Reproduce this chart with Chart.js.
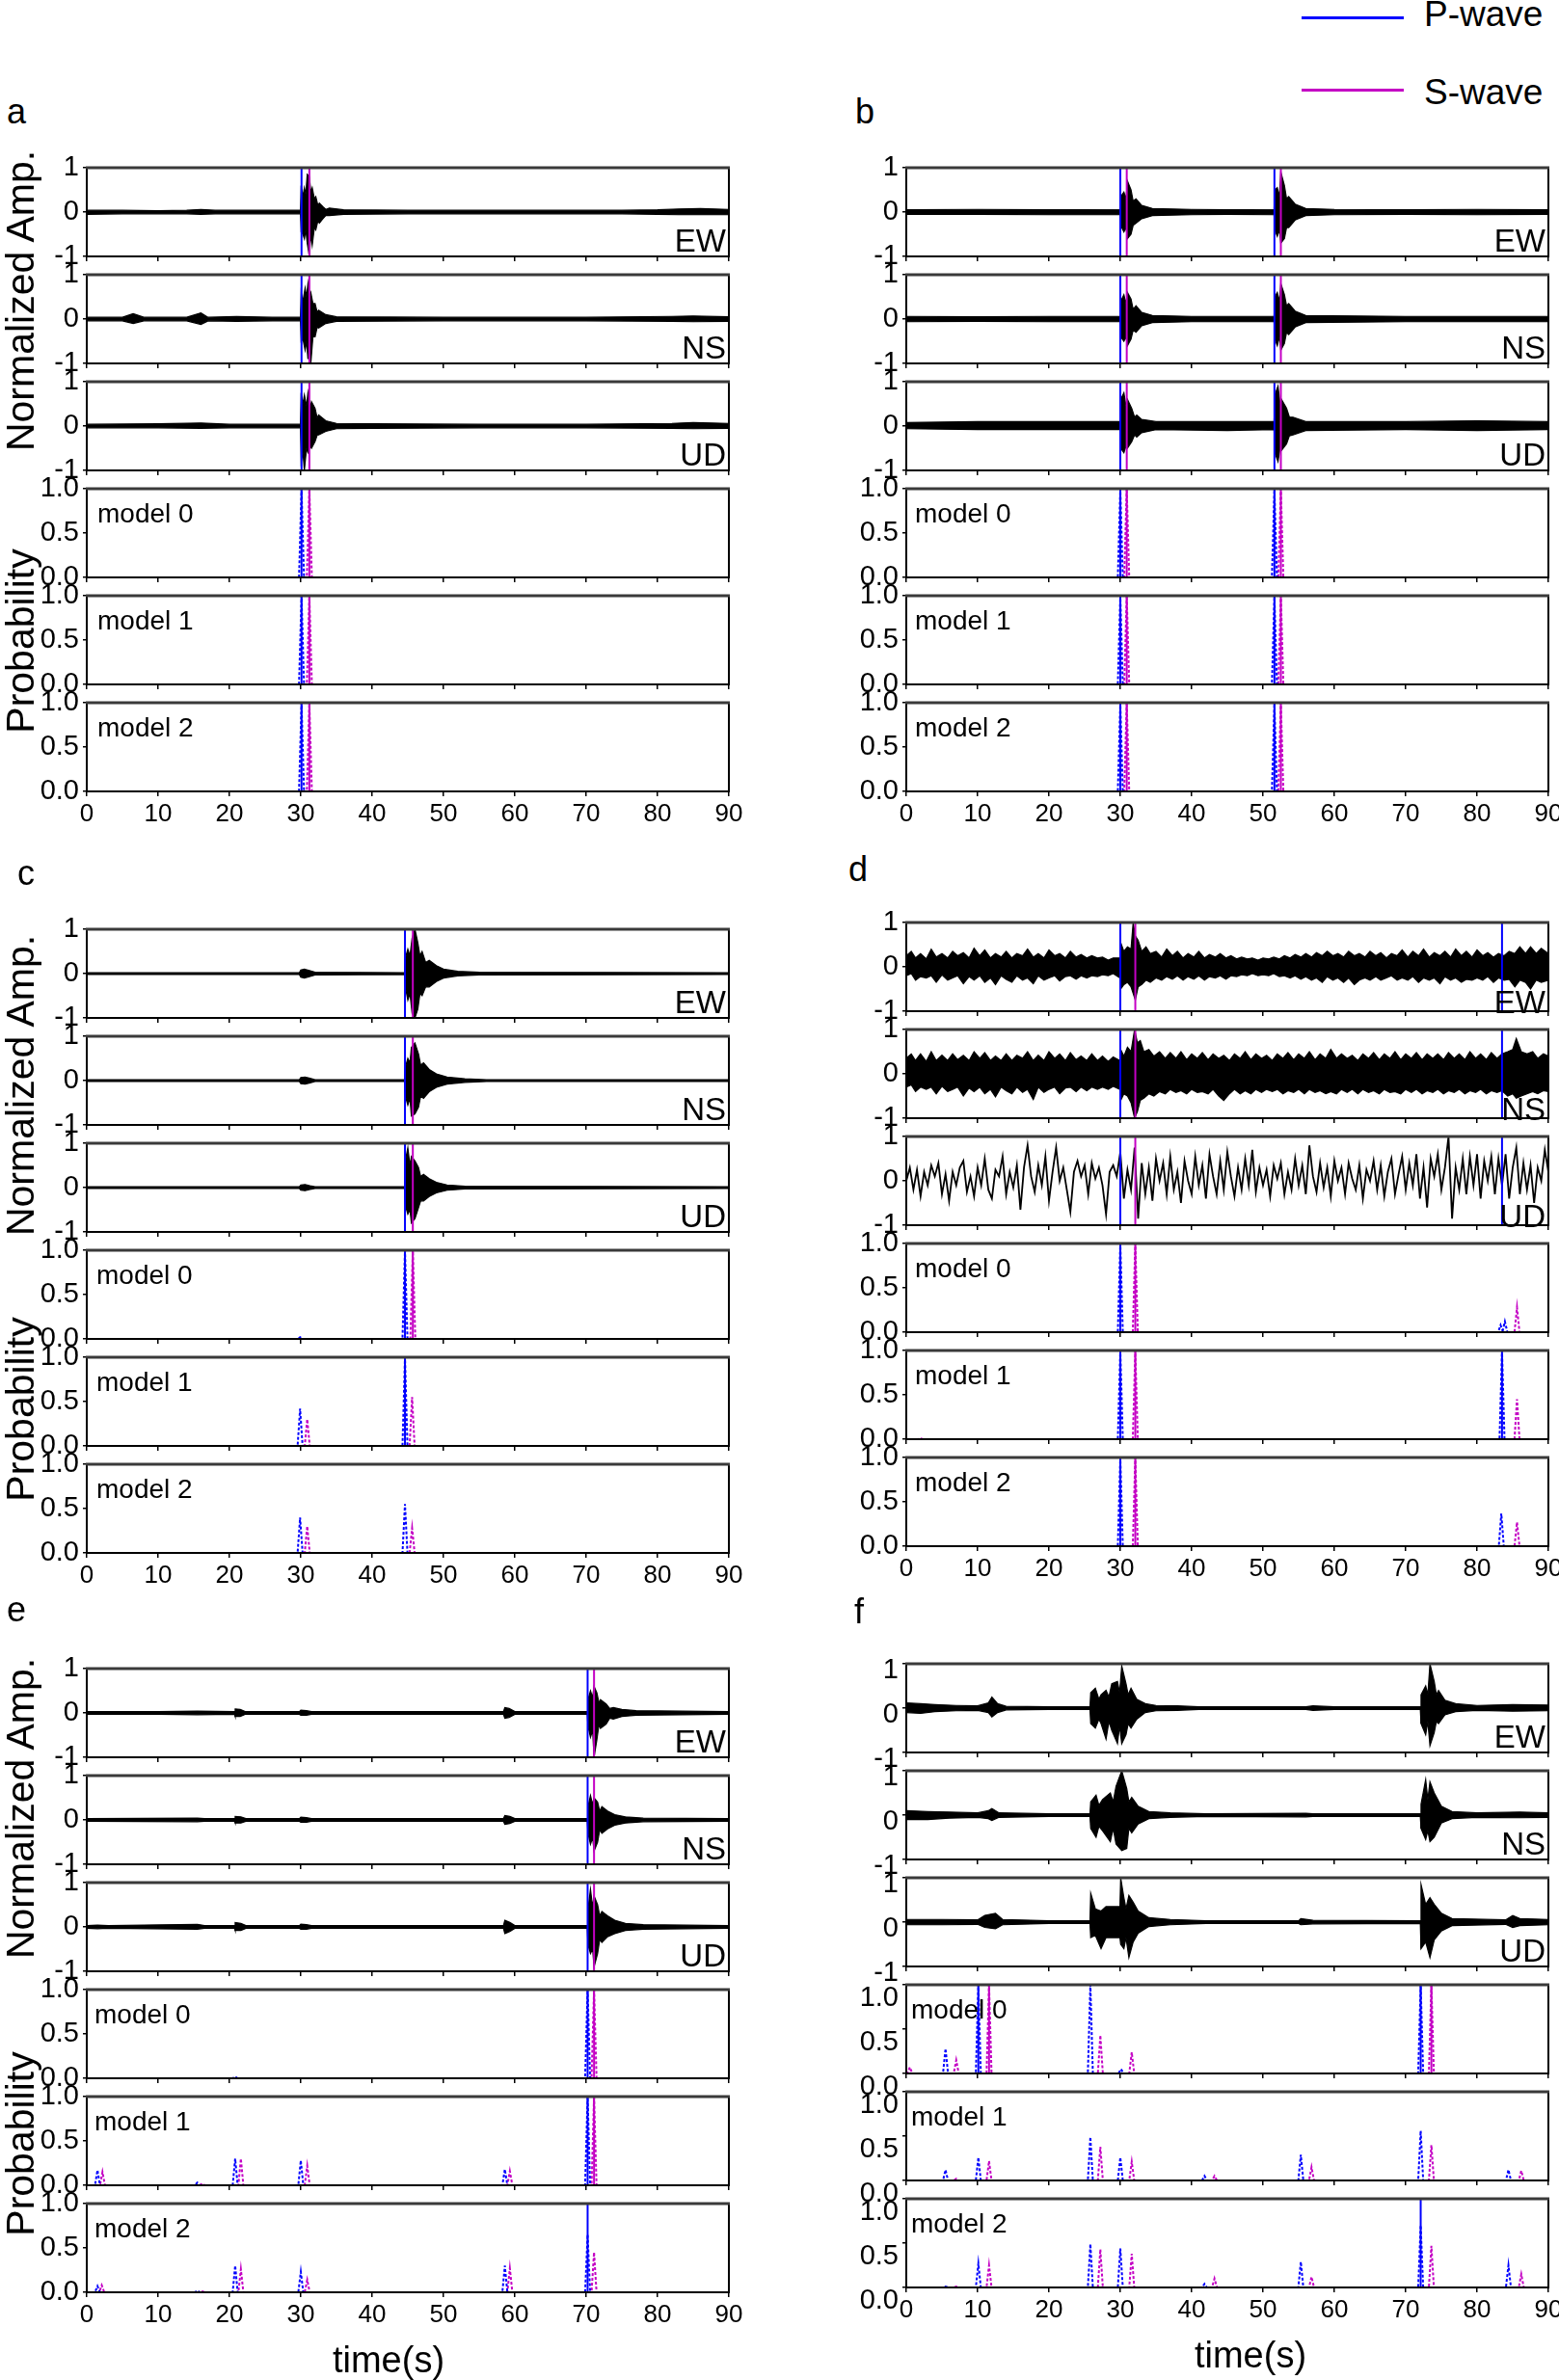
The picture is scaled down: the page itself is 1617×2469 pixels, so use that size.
<!DOCTYPE html>
<html><head><meta charset="utf-8">
<script src="https://cdn.jsdelivr.net/npm/chart.js@4.4.1/dist/chart.umd.min.js"></script>
<style>
html,body{margin:0;padding:0;background:#fff;}
body{width:1617px;height:2469px;position:relative;overflow:hidden;font-family:"Liberation Sans",Arial,sans-serif;}
canvas{position:absolute;}
.t{position:absolute;white-space:nowrap;line-height:1;color:#000;}
</style></head><body>
<script>
// ---------------- DATA ----------------
const timeTicks = [0,10,20,30,40,50,60,70,80,90];
const ampTicks = [-1,0,1];
const probTicks = [0.0,0.5,1.0];
const channels = ['EW','NS','UD'];
const models = ['model 0','model 1','model 2'];

// waveform envelopes: [time, upper, lower]
const waveA_EW=[[0,.04,-.05],[5,.04,-.04],[10,.03,-.04],[14,.04,-.04],[16,.06,-.05],[18,.04,-.04],[24,.04,-.04],[29.95,.04,-.04],[30.05,.6,-.45],[30.3,.35,-.5],[30.5,.55,-.6],[30.7,.4,-.4],[30.9,.85,-.7],[31.2,.8,-1.0],[31.4,.45,-.5],[31.6,.55,-.75],[31.9,.3,-.35],[32.1,.35,-.4],[32.4,.15,-.2],[32.6,.2,-.25],[33.1,.12,-.15],[33.5,.06,-.08],[34,.09,-.08],[36,.05,-.05],[45,.04,-.04],[60,.04,-.04],[75,.04,-.04],[80,.05,-.05],[83,.07,-.06],[86,.08,-.06],[90,.06,-.06]];
const waveA_NS=[[0,.04,-.04],[5,.04,-.04],[6.5,.12,-.1],[8,.04,-.04],[14,.04,-.04],[16,.14,-.12],[17,.04,-.04],[21,.06,-.05],[26,.04,-.04],[29.95,.04,-.04],[30.05,.6,-.5],[30.3,.4,-.45],[30.6,.7,-.7],[30.8,.5,-.5],[31.0,.8,-.9],[31.2,.5,-.6],[31.4,.6,-1.0],[31.7,.35,-.4],[32,.35,-.4],[32.3,.15,-.18],[32.5,.2,-.2],[33.5,.1,-.1],[35,.05,-.05],[50,.04,-.04],[70,.04,-.04],[82,.06,-.05],[85,.07,-.06],[90,.05,-.05]];
const waveA_UD=[[0,.04,-.04],[10,.05,-.04],[16,.07,-.05],[20,.04,-.04],[29.95,.04,-.04],[30.05,.75,-.8],[30.3,.5,-.6],[30.5,.7,-1.0],[30.8,.45,-.5],[31.0,.75,-.6],[31.3,.4,-.45],[31.5,.55,-.5],[32,.4,-.35],[32.3,.18,-.2],[32.5,.25,-.2],[33.5,.12,-.12],[35,.06,-.06],[40,.05,-.05],[55,.04,-.04],[70,.04,-.04],[82,.06,-.05],[85,.08,-.06],[90,.06,-.05]];

const waveB_EW=[[0,.05,-.05],[10,.06,-.05],[20,.05,-.06],[29.95,.06,-.06],[30.05,.35,-.3],[30.5,.45,-.45],[30.8,.3,-.35],[31.0,.7,-.6],[31.5,.5,-.5],[31.8,.25,-.3],[32.2,.3,-.25],[33,.15,-.15],[34.5,.08,-.08],[40,.06,-.06],[45,.05,-.05],[51.55,.06,-.06],[51.65,.5,-.4],[52.0,.55,-.55],[52.3,.35,-.4],[52.5,.9,-.7],[53,.6,-.6],[53.3,.3,-.35],[53.6,.35,-.35],[54.5,.18,-.18],[56,.08,-.08],[60,.06,-.06],[70,.05,-.05],[80,.06,-.06],[90,.05,-.05]];
const waveB_NS=[[0,.06,-.06],[10,.05,-.05],[20,.06,-.06],[29.95,.06,-.06],[30.05,.4,-.4],[30.5,.55,-.5],[30.8,.35,-.4],[31,.6,-.6],[31.5,.45,-.45],[31.8,.22,-.25],[32.2,.3,-.3],[33,.15,-.15],[34.5,.08,-.08],[40,.06,-.06],[51.55,.06,-.06],[51.65,.5,-.45],[52.0,.6,-.6],[52.3,.4,-.4],[52.5,.8,-.7],[53,.55,-.55],[53.3,.3,-.3],[53.6,.35,-.35],[54.5,.18,-.18],[56,.08,-.08],[70,.06,-.06],[90,.06,-.06]];
const waveB_UD=[[0,.08,-.06],[10,.1,-.08],[20,.1,-.08],[29.95,.1,-.08],[30.05,.6,-.5],[30.5,.75,-.6],[30.8,.45,-.45],[31,.6,-.5],[31.6,.4,-.35],[32,.2,-.2],[32.3,.25,-.25],[33,.15,-.15],[35,.1,-.08],[45,.1,-.1],[51.55,.1,-.08],[51.65,.7,-.6],[52.1,.9,-.8],[52.4,.5,-.5],[52.6,.6,-.55],[53.3,.4,-.4],[53.7,.2,-.22],[54.2,.2,-.2],[56,.1,-.1],[70,.1,-.08],[80,.12,-.1],[90,.1,-.08]];

const waveC_EW=[[0,.02,-.02],[20,.02,-.02],[29.8,.02,-.02],[30,.08,-.08],[30.5,.1,-.1],[31.2,.07,-.07],[32,.03,-.03],[44.55,.02,-.02],[44.65,.35,-.3],[45.0,.55,-.6],[45.3,.4,-.45],[45.6,.8,-.9],[46.0,1.0,-1.0],[46.4,.7,-.8],[46.7,.4,-.45],[47,.5,-.5],[47.5,.25,-.3],[48,.3,-.3],[49,.18,-.18],[50,.1,-.1],[52,.05,-.05],[55,.03,-.03],[90,.02,-.02]];
const waveC_NS=[[0,.02,-.02],[29.8,.02,-.02],[30,.07,-.07],[30.6,.08,-.08],[31.3,.05,-.05],[32,.02,-.02],[44.55,.02,-.02],[44.65,.3,-.35],[45,.5,-.55],[45.3,.4,-.4],[45.5,.75,-.8],[46,.85,-.75],[46.5,.6,-.6],[46.8,.35,-.35],[47.2,.4,-.4],[48,.25,-.25],[49,.15,-.15],[50.5,.08,-.08],[53,.04,-.04],[56,.02,-.02],[90,.02,-.02]];
const waveC_UD=[[0,.02,-.02],[29.8,.02,-.02],[30,.06,-.06],[30.6,.07,-.07],[31.3,.04,-.04],[32,.02,-.02],[44.55,.02,-.02],[44.65,.6,-.4],[45,.9,-.6],[45.3,.5,-.5],[45.5,.7,-.8],[46,.6,-.7],[46.5,.45,-.45],[46.8,.25,-.3],[47.2,.3,-.3],[48,.2,-.2],[49,.12,-.12],[50.5,.06,-.06],[53,.03,-.03],[90,.02,-.02]];

const waveD_EW=[[0,.25,-.2],[0.7,.35,-.15],[1.3,.2,-.3],[2,.3,-.22],[2.8,.18,-.25],[3.5,.4,-.2],[4.2,.22,-.35],[5,.3,-.18],[5.8,.2,-.3],[6.5,.35,-.25],[7.2,.25,-.2],[8,.32,-.38],[8.8,.2,-.22],[9.5,.42,-.3],[10.3,.25,-.2],[11,.38,-.35],[11.8,.2,-.25],[12.5,.3,-.4],[13.3,.22,-.2],[14,.35,-.28],[14.8,.2,-.35],[15.5,.3,-.2],[16.3,.25,-.3],[17,.4,-.25],[17.8,.22,-.38],[18.5,.3,-.2],[19.3,.2,-.3],[20,.38,-.25],[20.8,.25,-.2],[21.5,.3,-.32],[22.3,.2,-.22],[23,.35,-.2],[23.8,.22,-.28],[24.5,.28,-.2],[25.3,.2,-.25],[26,.25,-.2],[26.8,.2,-.22],[27.5,.22,-.18],[28.3,.15,-.2],[29,.2,-.15],[29.95,.2,-.25],[30.05,.55,-.5],[30.5,.35,-.4],[31,.45,-.35],[31.5,.4,-.45],[31.8,1.0,-.6],[32.1,.7,-.75],[32.5,.6,-.45],[33,.35,-.4],[33.6,.45,-.3],[34.2,.3,-.35],[35,.35,-.25],[35.8,.22,-.3],[36.5,.4,-.22],[37.3,.25,-.28],[38,.35,-.2],[38.8,.2,-.3],[39.5,.3,-.22],[40.3,.22,-.28],[41,.35,-.2],[41.8,.2,-.3],[42.5,.28,-.22],[43.3,.22,-.25],[44,.3,-.2],[44.8,.2,-.28],[45.5,.25,-.2],[46.3,.18,-.22],[47,.22,-.18],[47.8,.18,-.2],[48.5,.2,-.15],[49.3,.15,-.2],[50,.2,-.18],[50.8,.18,-.2],[51.5,.22,-.15],[52.3,.18,-.22],[53,.25,-.2],[53.8,.2,-.25],[54.5,.28,-.2],[55.3,.22,-.28],[56,.3,-.22],[56.8,.22,-.3],[57.5,.32,-.25],[58.3,.25,-.35],[59,.35,-.22],[59.8,.25,-.3],[60.5,.3,-.25],[61.3,.22,-.35],[62,.35,-.25],[62.8,.25,-.4],[63.5,.3,-.3],[64.3,.22,-.25],[65,.35,-.3],[65.8,.25,-.22],[66.5,.32,-.3],[67.3,.2,-.25],[68,.3,-.2],[68.8,.25,-.3],[69.5,.38,-.25],[70.3,.22,-.3],[71,.35,-.22],[71.8,.25,-.35],[72.5,.4,-.25],[73.3,.22,-.3],[74,.32,-.25],[74.8,.25,-.38],[75.5,.35,-.22],[76.3,.22,-.3],[77,.4,-.25],[77.8,.25,-.35],[78.5,.35,-.28],[79.3,.22,-.3],[80,.38,-.25],[80.8,.25,-.3],[81.5,.32,-.22],[82.3,.22,-.35],[83,.3,-.25],[83.8,.25,-.3],[84.5,.35,-.28],[85.3,.3,-.45],[86,.45,-.3],[86.8,.3,-.35],[87.5,.45,-.5],[88.3,.3,-.3],[89,.42,-.35],[90,.3,-.3]];
const waveD_NS=[[0,.35,-.3],[0.7,.45,-.25],[1.3,.3,-.4],[2,.45,-.3],[2.8,.28,-.35],[3.5,.5,-.3],[4.2,.3,-.45],[5,.42,-.28],[5.8,.3,-.4],[6.5,.45,-.35],[7.2,.32,-.3],[8,.42,-.5],[8.8,.3,-.32],[9.5,.5,-.4],[10.3,.35,-.3],[11,.48,-.45],[11.8,.3,-.35],[12.5,.4,-.52],[13.3,.3,-.3],[14,.45,-.38],[14.8,.3,-.45],[15.5,.42,-.3],[16.3,.35,-.42],[17,.5,-.35],[17.8,.3,-.58],[18.5,.42,-.3],[19.3,.3,-.42],[20,.5,-.35],[20.8,.35,-.3],[21.5,.45,-.45],[22.3,.3,-.32],[23,.48,-.3],[23.8,.32,-.4],[24.5,.4,-.3],[25.3,.3,-.38],[26,.45,-.3],[26.8,.3,-.35],[27.5,.4,-.3],[28.3,.28,-.35],[29,.38,-.28],[29.95,.3,-.35],[30.05,.55,-.6],[30.5,.4,-.45],[31,.6,-.5],[31.5,.5,-.65],[32,1.0,-1.0],[32.4,.7,-.85],[32.8,.75,-.6],[33.3,.5,-.55],[34,.55,-.45],[34.7,.4,-.5],[35.5,.5,-.4],[36.3,.35,-.45],[37,.48,-.35],[37.8,.35,-.42],[38.5,.5,-.38],[39.3,.32,-.45],[40,.45,-.35],[40.8,.35,-.42],[41.5,.48,-.4],[42.3,.32,-.45],[43,.45,-.35],[43.8,.35,-.5],[44.5,.42,-.6],[45.3,.3,-.45],[46,.45,-.35],[46.8,.35,-.45],[47.5,.5,-.38],[48.3,.32,-.45],[49,.45,-.35],[49.8,.35,-.42],[50.5,.42,-.35],[51.3,.3,-.4],[52,.45,-.35],[52.8,.35,-.45],[53.5,.48,-.38],[54.3,.32,-.42],[55,.45,-.35],[55.8,.35,-.45],[56.5,.5,-.35],[57.3,.32,-.42],[58,.45,-.38],[58.8,.35,-.45],[59.5,.55,-.4],[60.3,.35,-.45],[61,.45,-.35],[61.8,.35,-.42],[62.5,.42,-.35],[63.3,.3,-.45],[64,.45,-.35],[64.8,.35,-.42],[65.5,.48,-.38],[66.3,.32,-.45],[67,.45,-.35],[67.8,.35,-.42],[68.5,.5,-.4],[69.3,.32,-.45],[70,.45,-.35],[70.8,.35,-.42],[71.5,.48,-.35],[72.3,.32,-.45],[73,.45,-.38],[73.8,.35,-.42],[74.5,.45,-.35],[75.3,.32,-.45],[76,.48,-.38],[76.8,.35,-.42],[77.5,.45,-.35],[78.3,.32,-.45],[79,.5,-.38],[79.8,.35,-.42],[80.5,.45,-.35],[81.3,.32,-.45],[82,.48,-.38],[82.8,.35,-.42],[83.5,.45,-.38],[84.3,.5,-.5],[85,.55,-.45],[85.5,.8,-.55],[86.2,.5,-.5],[87,.45,-.45],[87.8,.5,-.4],[88.5,.35,-.45],[89.3,.45,-.38],[90,.4,-.4]];
const waveD_UD_dt = 0.5;
const waveD_UD=[0,.3,-.2,.25,-.35,.2,-.1,.35,.1,.4,-.3,.15,-.45,.2,-.1,.3,.45,-.25,.1,-.35,.3,-.1,.5,-.2,-.4,.25,.1,.55,-.3,.2,-.15,.35,-.65,.3,.8,.1,-.25,.35,-.1,.55,-.45,.2,.75,0,.3,-.2,-.7,.2,.45,.1,.35,-.3,.4,.05,.3,-.1,-.75,.2,.35,.1,.65,-.4,.25,-.2,.75,-.85,.4,-.3,.3,-.45,.5,0,.4,-.3,.55,-.2,.2,-.5,.45,0,-.3,.55,-.1,.35,-.4,.6,.1,-.3,.45,-.2,.65,.1,-.35,.3,-.2,.5,-.1,.7,-.25,.3,-.1,.25,-.35,.35,.05,.4,-.3,.2,-.2,.5,-.1,.35,-.3,.8,.1,-.25,.4,-.15,.3,-.35,.45,0,.3,-.3,.4,.05,-.2,.35,-.4,.25,0,.45,-.2,.35,-.35,.2,.5,-.3,.15,.55,-.2,.4,-.1,.6,-.4,.3,-.6,.5,.1,.6,-.2,.3,1.0,-.85,.3,-.2,.5,-.3,.55,-.1,.6,-.4,.45,0,.55,-.3,.5,-.1,.6,-.4,.3,.75,-.3,.4,-.2,.35,-.5,.3,0,.7,.2];

const waveE_EW=[[0,.03,-.03],[10,.03,-.03],[15.5,.04,-.04],[20.7,.03,-.03],[20.8,.09,-.08],[21.5,.08,-.08],[22.2,.03,-.03],[29.8,.03,-.03],[30,.06,-.05],[30.8,.05,-.05],[31.5,.03,-.03],[58.4,.03,-.03],[58.6,.12,-.12],[59.2,.1,-.1],[60,.03,-.03],[70.15,.03,-.03],[70.25,.3,-.3],[70.6,.5,-.55],[70.9,.35,-.4],[71.1,.6,-1.0],[71.5,.45,-.6],[71.8,.22,-.25],[72,.3,-.35],[72.8,.2,-.25],[73.3,.1,-.12],[73.8,.12,-.14],[75,.08,-.08],[77,.05,-.05],[90,.03,-.03]];
const waveE_NS=[[0,.03,-.03],[15.5,.04,-.04],[16.5,.03,-.03],[20.7,.03,-.03],[20.8,.08,-.07],[21.6,.07,-.07],[22.3,.03,-.03],[29.8,.03,-.03],[30,.06,-.05],[30.8,.05,-.05],[31.5,.03,-.03],[58.4,.03,-.03],[58.6,.1,-.1],[59.3,.08,-.08],[60,.03,-.03],[70.15,.03,-.03],[70.25,.3,-.3],[70.6,.55,-.55],[70.9,.35,-.4],[71.1,.5,-.7],[71.6,.4,-.5],[71.9,.2,-.22],[72.2,.3,-.3],[73,.2,-.2],[74,.12,-.12],[75.5,.07,-.07],[78,.04,-.04],[90,.03,-.03]];
const waveE_UD=[[0,.03,-.03],[1.5,.04,-.04],[3,.03,-.03],[15.5,.06,-.05],[16.5,.03,-.03],[20.7,.03,-.03],[20.8,.1,-.08],[21.6,.08,-.08],[22.3,.03,-.03],[29.8,.03,-.03],[30,.06,-.05],[30.8,.05,-.05],[31.5,.03,-.03],[58.4,.03,-.03],[58.6,.15,-.15],[59.3,.1,-.1],[60,.03,-.03],[70.15,.03,-.03],[70.25,.4,-.4],[70.6,.85,-.6],[70.9,.45,-.5],[71.1,.7,-.9],[71.6,.5,-.6],[71.9,.25,-.28],[72.2,.35,-.35],[73,.25,-.22],[74,.15,-.15],[75.5,.08,-.08],[78,.05,-.05],[90,.03,-.03]];

const waveF_EW=[[0,.12,-.1],[2,.1,-.12],[4,.08,-.08],[7,.06,-.06],[10,.05,-.05],[11.5,.12,-.1],[12,.25,-.2],[12.8,.1,-.1],[14,.04,-.04],[20,.03,-.03],[25.75,.03,-.03],[25.85,.35,-.35],[26.5,.45,-.45],[27,.2,-.25],[27.3,.3,-.35],[28,.4,-.7],[28.4,.25,-.3],[28.8,.55,-.5],[29.6,.6,-.8],[29.9,.35,-.4],[30.2,.95,-.8],[30.8,.55,-.6],[31.1,.3,-.35],[31.5,.45,-.45],[32.3,.2,-.25],[33.5,.1,-.1],[35,.06,-.06],[38,.05,-.05],[41,.03,-.03],[56,.03,-.03],[57,.05,-.05],[60,.03,-.03],[72.05,.03,-.03],[72.15,.3,-.35],[72.8,.5,-.6],[73.1,.3,-.3],[73.4,1.0,-.85],[74,.6,-.55],[74.3,.3,-.3],[74.6,.4,-.35],[75.5,.18,-.15],[77,.1,-.08],[80,.06,-.05],[85,.08,-.07],[90,.07,-.06]];
const waveF_NS=[[0,.1,-.1],[3,.08,-.1],[6,.07,-.07],[10,.05,-.05],[11.5,.1,-.08],[12,.15,-.12],[13,.05,-.05],[20,.03,-.03],[25.75,.03,-.03],[25.85,.3,-.3],[26.6,.45,-.5],[27,.22,-.25],[27.5,.35,-.35],[28.6,.5,-.6],[29,.3,-.3],[29.4,.65,-.65],[30.2,1.0,-.8],[30.9,.6,-.75],[31.2,.3,-.3],[31.6,.4,-.4],[32.5,.2,-.2],[34,.08,-.08],[37,.05,-.05],[42,.03,-.03],[56,.04,-.04],[57,.03,-.03],[72.05,.03,-.03],[72.15,.25,-.3],[72.8,.8,-.55],[73.1,.35,-.35],[73.4,.75,-.6],[74,.5,-.5],[75,.2,-.18],[76.5,.08,-.08],[80,.05,-.05],[86,.07,-.06],[90,.05,-.05]];
const waveF_UD=[[0,.06,-.06],[5,.06,-.06],[10,.05,-.05],[11,.15,-.12],[12.5,.2,-.15],[13.5,.06,-.06],[20,.03,-.03],[25.75,.03,-.03],[25.85,.65,-.35],[26.5,.3,-.3],[27.3,.25,-.6],[28,.35,-.35],[29.95,.35,-.35],[30.05,1.0,-.5],[30.5,.55,-.6],[30.8,.3,-.35],[31.2,.6,-.8],[31.8,.45,-.45],[32.5,.25,-.25],[34,.1,-.1],[37,.06,-.06],[42,.03,-.03],[55,.03,-.03],[55.3,.08,-.06],[57,.04,-.04],[72.05,.03,-.03],[72.15,.85,-.6],[72.8,.4,-.45],[73.4,.55,-.8],[74,.4,-.4],[75,.2,-.2],[76.5,.08,-.08],[84,.05,-.05],[85,.15,-.12],[86,.08,-.08],[90,.06,-.06]];

// picks drawn on the waveforms (s)
const pickP_a=[30.1], pickS_a=[31.2];
const pickP_b=[30.0,51.6], pickS_b=[30.9,52.5];
const pickP_c=[44.6], pickS_c=[45.7];
const pickP_d=[30.0,83.5], pickS_d=[32.1];
const pickP_e=[70.2], pickS_e=[71.1];
const pickP_f=[], pickS_f=[];

// probability peaks per model: [time, height]
const probP_a=[[[30.1,1]],[[30.1,1]],[[30.1,1]]];
const probS_a=[[[31.2,1]],[[31.2,1]],[[31.2,1]]];
const solidP_a=[[30.1],[30.1],[30.1]], solidS_a=[[31.2],[31.2],[31.2]];

const probP_b=[[[30.0,1],[51.6,1]],[[30.0,1],[51.6,1]],[[30.0,1],[51.6,1]]];
const probS_b=[[[30.9,1],[52.5,1]],[[30.9,1],[52.5,1]],[[30.9,1],[52.5,1]]];
const solidP_b=[[30.0,51.6],[30.0,51.6],[30.0,51.6]], solidS_b=[[30.9,52.5],[30.9,52.5],[30.9,52.5]];

const probP_c=[[[29.9,.02],[44.6,1]],[[29.9,.42],[44.6,1]],[[29.9,.4],[44.6,.55]]];
const probS_c=[[[45.7,1]],[[30.9,.3],[45.6,.55]],[[30.9,.3],[45.6,.28]]];
const solidP_c=[[44.6],[44.6],[]], solidS_c=[[45.7],[],[]];

const probP_d=[[[30.0,1],[83.3,.08],[83.9,.12]],[[30.0,1],[83.5,1]],[[30.0,1],[83.4,.37]]];
const probS_d=[[[32.1,1],[85.6,.28]],[[2.0,.01],[32.1,1],[85.6,.45]],[[32.1,1],[85.6,.27]]];
const solidP_d=[[30.0],[30.0,83.5],[30.0]], solidS_d=[[32.1],[32.1],[32.1]];

const probP_e=[[[20.8,.02],[70.2,1]],[[1.5,.17],[15.5,.03],[20.8,.3],[30.0,.28],[58.6,.18],[70.2,1]],[[1.5,.07],[15.5,.02],[20.8,.3],[30.0,.23],[58.6,.3],[70.2,.65]]];
const probS_e=[[[71.1,1]],[[2.2,.15],[16.2,.02],[21.6,.3],[30.9,.22],[59.3,.16],[71.1,1]],[[2.1,.08],[16.2,.01],[21.6,.26],[30.9,.14],[59.3,.27],[71.1,.45]]];
const solidP_e=[[70.2],[70.2],[70.2]], solidS_e=[[71.1],[71.1],[]];

const probP_f=[[[5.5,.28],[10.1,1],[25.8,1],[30.1,.05],[72.1,1]],[[5.5,.12],[10.1,.26],[25.8,.49],[30.0,.26],[41.8,.05],[55.3,.29],[72.1,.56],[84.4,.12]],[[5.5,.01],[10.1,.27],[25.8,.49],[30.0,.44],[41.8,.04],[55.3,.29],[72.1,.7],[84.4,.25]]];
const probS_f=[[[0.5,.07],[7.0,.15],[11.6,1],[27.2,.43],[31.6,.24],[73.6,1]],[[7.0,.02],[11.6,.22],[27.2,.38],[31.6,.21],[43.2,.05],[56.8,.15],[73.6,.4],[86.2,.11]],[[7.0,.01],[11.6,.25],[27.2,.43],[31.6,.38],[43.2,.1],[56.8,.12],[73.6,.47],[86.2,.15]]];
const solidP_f=[[10.1,72.1],[],[72.1]], solidS_f=[[11.6,73.6],[],[]];

// ---------------- LAYOUT / STYLE ----------------
const FONT='"Liberation Sans", Arial, sans-serif';
const BLUE='#0000ff', MAG='#c400c4';
const BOX_W=666, BOX_H=92, STEP=111, YAX=90, PADT=18;
const PEAK_HALF=0.35;

const PANELS=[
 {id:'a',left:90, top:174, letter:[17,116], waves:[waveA_EW,waveA_NS,waveA_UD], pP:pickP_a,pS:pickS_a, prP:probP_a,prS:probS_a,sP:solidP_a,sS:solidS_a, mx:11, lblDy:-5, yOffW:0,yOffP:0, ampY:312, probY:665},
 {id:'b',left:940,top:174, letter:[897,116], waves:[waveB_EW,waveB_NS,waveB_UD], pP:pickP_b,pS:pickS_b, prP:probP_b,prS:probS_b,sP:solidP_b,sS:solidS_b, mx:9, lblDy:-5, yOffW:0,yOffP:0},
 {id:'c',left:90, top:964, letter:[27,906], waves:[waveC_EW,waveC_NS,waveC_UD], pP:pickP_c,pS:pickS_c, prP:probP_c,prS:probS_c,sP:solidP_c,sS:solidS_c, mx:10, lblDy:-5, yOffW:0,yOffP:0, ampY:1126, probY:1462},
 {id:'d',left:940,top:957, letter:[890,902], waves:[waveD_EW,waveD_NS,{line:waveD_UD,dt:waveD_UD_dt}], pP:pickP_d,pS:pickS_d, prP:probP_d,prS:probS_d,sP:solidP_d,sS:solidS_d, mx:9, lblDy:2, yOffW:0,yOffP:0},
 {id:'e',left:90, top:1731,letter:[17,1670], waves:[waveE_EW,waveE_NS,waveE_UD], pP:pickP_e,pS:pickS_e, prP:probP_e,prS:probS_e,sP:solidP_e,sS:solidS_e, mx:8, lblDy:-5, yOffW:0,yOffP:0, ampY:1876, probY:2224, xtitle:[403,2448]},
 {id:'f',left:940,top:1726,letter:[891,1672], waves:[waveF_EW,waveF_NS,waveF_UD], pP:pickP_f,pS:pickS_f, prP:probP_f,prS:probS_f,sP:solidP_f,sS:solidS_f, mx:5, lblDy:-5, yOffW:7,yOffP:14, xtitle:[1297,2443]}
];

// ---------------- HELPERS ----------------
function addText(txt,x,y,size,opt={}){
  const d=document.createElement('div');d.className='t';d.textContent=txt;
  d.style.fontSize=size+'px';
  if(opt.right!==undefined){d.style.right=(1617-opt.right)+'px';}else{d.style.left=x+'px';}
  d.style.top=y+'px';
  if(opt.center){d.style.transform='translate(-50%,-50%)';}
  if(opt.rot){d.style.transform='translate(-50%,-50%) rotate(-90deg)';}
  document.body.appendChild(d);return d;
}
const framePlugin={id:'frame',afterDatasetsDraw(chart){
  const {ctx,chartArea:a}=chart;ctx.save();
  ctx.strokeStyle='#000';ctx.lineWidth=2;ctx.strokeRect(a.left,a.top,a.right-a.left,a.bottom-a.top);
  ctx.strokeStyle='#3a3a3a';ctx.lineWidth=3;ctx.beginPath();ctx.moveTo(a.left-1,a.top);ctx.lineTo(a.right+1,a.top);ctx.stroke();
  ctx.restore();}};

function vline(t,y0,y1,color){return {data:[{x:t,y:y0},{x:t,y:y1}],borderColor:color,borderWidth:2,pointRadius:0,fill:false,tension:0};}
function envelope(env){
  return [
    {data:env.map(p=>({x:p[0],y:p[1]})),borderColor:'#000',backgroundColor:'#000',borderWidth:1.2,pointRadius:0,fill:'+1',tension:0},
    {data:env.map(p=>({x:p[0],y:p[2]})),borderColor:'#000',borderWidth:1.2,pointRadius:0,fill:false,tension:0}
  ];
}
function probCurve(peaks){
  const pts=[{x:0,y:0}];
  peaks.forEach(([t,h])=>{pts.push({x:t-PEAK_HALF,y:0},{x:t,y:h},{x:t+PEAK_HALF,y:0});});
  pts.push({x:90,y:0});return pts;
}
function makeChart(boxLeft,boxTop,o){
  const rightCol=boxLeft>500;
  const pr=rightCol?(1617-boxLeft-BOX_W):30;
  const xh=o.xlabels?54:28;
  const W=YAX+BOX_W+pr, H=PADT+BOX_H+xh;
  const c=document.createElement('canvas');
  c.width=W;c.height=H;c.style.left=(boxLeft-YAX)+'px';c.style.top=(boxTop-PADT)+'px';
  c.style.width=W+'px';c.style.height=H+'px';
  document.body.appendChild(c);
  new Chart(c,{type:'line',data:{datasets:o.datasets},plugins:[framePlugin],
    options:{responsive:false,animation:false,devicePixelRatio:1,events:[],
      layout:{padding:{top:PADT,right:pr,bottom:0,left:0}},
      plugins:{legend:{display:false},tooltip:{enabled:false}},
      scales:{
        x:{type:'linear',min:0,max:90,
           afterBuildTicks(s){s.ticks=timeTicks.map(v=>({value:v}));},
           afterFit(s){s.height=xh;s.paddingLeft=0;s.paddingRight=0;},
           ticks:{font:{size:26,family:FONT},color:'#000',padding:3,maxRotation:0,autoSkip:false,
                  callback:v=>o.xlabels?String(v):''},
           grid:{display:true,drawOnChartArea:false,drawTicks:true,tickLength:5,color:'#000',lineWidth:1.5},
           border:{display:false}},
        y:{type:'linear',min:o.ymin,max:o.ymax,
           afterBuildTicks(s){s.ticks=o.yticks.map(v=>({value:v}));},
           afterFit(s){s.width=YAX;s.paddingTop=0;s.paddingBottom=0;},
           ticks:{font:{size:29,family:FONT},color:'#000',padding:4,labelOffset:o.yOff||0,callback:o.fmt},
           grid:{display:true,drawOnChartArea:false,drawTicks:true,tickLength:4,color:'#000',lineWidth:1.5},
           border:{display:false}}
      }}});
}

// ---------------- BUILD ----------------
PANELS.forEach(P=>{
  addText(P.id,P.letter[0],P.letter[1],36,{center:true});
  channels.forEach((ch,i)=>{
    const bt=P.top+i*STEP;
    const ds=[];
    P.pP.forEach(t=>ds.push(vline(t,-1,1,BLUE)));
    P.pS.forEach(t=>ds.push(vline(t,-1,1,MAG)));
    const w=P.waves[i];
    if(w.line){ds.push({data:w.line.map((v,k)=>({x:k*w.dt,y:v})),borderColor:'#000',borderWidth:1.8,pointRadius:0,fill:false,tension:0});}
    else ds.push(...envelope(w));
    makeChart(P.left,bt,{ymin:-1,ymax:1,yticks:ampTicks,fmt:v=>String(v),datasets:ds,xlabels:false,yOff:P.yOffW});
    addText(ch,0,bt+BOX_H+P.lblDy-28,33,{right:P.left+BOX_W-3});
  });
  models.forEach((m,j)=>{
    const bt=P.top+(3+j)*STEP;
    const ds=[];
    P.sP[j].forEach(t=>ds.push(vline(t,0,1,BLUE)));
    P.sS[j].forEach(t=>ds.push(vline(t,0,1,MAG)));
    ds.push({data:probCurve(P.prP[j]),borderColor:BLUE,borderWidth:2,borderDash:[3,2],pointRadius:0,fill:false,tension:0});
    ds.push({data:probCurve(P.prS[j]),borderColor:MAG,borderWidth:2,borderDash:[3,2],pointRadius:0,fill:false,tension:0});
    makeChart(P.left,bt,{ymin:0,ymax:1,yticks:probTicks,fmt:v=>Number(v).toFixed(1),datasets:ds,xlabels:j===2,yOff:P.yOffP});
    addText(m,P.left+P.mx,bt+12,28);
  });
  if(P.ampY){
    addText('Normalized Amp.',21,P.ampY,41,{rot:true});
    addText('Probability',21,P.probY,41,{rot:true});
  }
  if(P.xtitle){addText('time(s)',P.xtitle[0],P.xtitle[1],38,{center:true});}
});

// legend
function legLine(x,y,w,color){const d=document.createElement('div');d.style.cssText=`position:absolute;left:${x}px;top:${y}px;width:${w}px;height:3px;background:${color}`;document.body.appendChild(d);}
legLine(1350,17,106,BLUE);
legLine(1350,92,106,MAG);
addText('P-wave',1477,-4,37);
addText('S-wave',1477,77,37);
</script>
</body></html>
